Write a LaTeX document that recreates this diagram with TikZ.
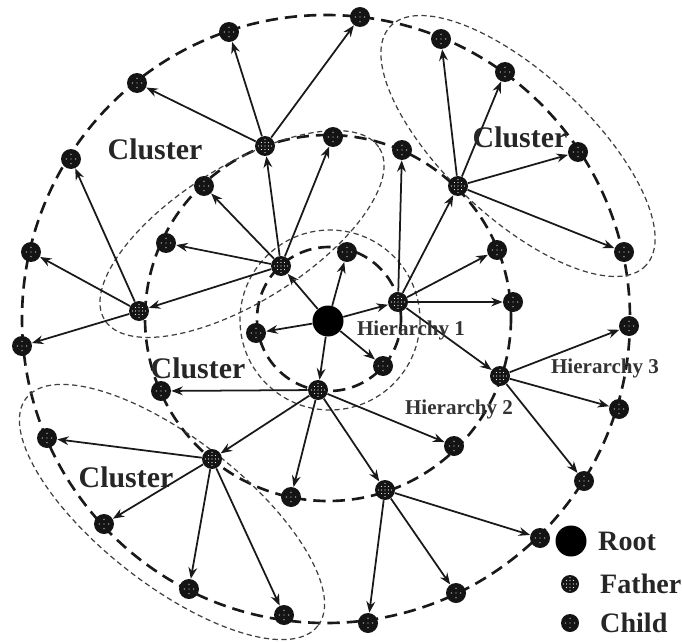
\documentclass[tikz,border=0pt]{standalone}
\usepackage{fontspec}
\setmainfont{Liberation Serif}
\usetikzlibrary{arrows.meta, backgrounds}

\begin{document}
\begin{tikzpicture}[x=0.02cm, y=-0.02cm,
    rootnode/.style={circle, fill=black, inner sep=0pt, minimum size=0.62cm},
    fathernode/.style={circle, fill=black!92, inner sep=0pt, minimum size=0.4cm,
      path picture={\foreach \dx/\dy in {-2/-2,0/-2,2/-2,-2/0,0/0,2/0,-2/2,0/2,2/2,-3.7/0,3.7/0,0/-3.7,0/3.7}
        \fill[white!90!black] ([xshift=\dx pt, yshift=\dy pt]path picture bounding box.center) circle (0.4pt);}},
    childnode/.style={circle, fill=black!92, inner sep=0pt, minimum size=0.4cm,
      path picture={\foreach \dx/\dy in {0/0,-2.6/0,2.6/0,0/-2.6,0/2.6}
        \fill[white!75!black] ([xshift=\dx pt, yshift=\dy pt]path picture bounding box.center) circle (0.4pt);}},
    link/.style={-{Stealth[length=6.5pt, width=5pt]}, line width=1pt, black!90},
    hcircle/.style={line width=1.5pt, black!90, dash pattern=on 7pt off 4pt},
    cluster/.style={line width=0.7pt, black!75, dash pattern=on 3pt off 2pt},
    clusterlabel/.style={font=\bfseries\fontsize{17}{20}\selectfont, text=black!85},
    hlabel/.style={font=\bfseries\fontsize{12}{14}\selectfont, text=black!80},
    legendlabel/.style={font=\bfseries\fontsize{16}{19}\selectfont, text=black!85, anchor=west}]
    \useasboundingbox (0,0) rectangle (682,642);

    % Root and the fathers
    \node[rootnode] (root) at (328,321) {};
    \node[fathernode] (f1) at (281,266) {};
    \node[fathernode] (f2) at (398,302) {};
    \node[fathernode] (f3) at (318,390) {};
    \node[fathernode] (f4) at (265,146) {};
    \node[fathernode] (f5) at (139,311) {};
    \node[fathernode] (f6) at (458,186) {};
    \node[fathernode] (f7) at (500,376) {};
    \node[fathernode] (f8) at (212,459) {};
    \node[fathernode] (f9) at (385,490) {};

    % Children
    \foreach \n/\x/\y in {c1a/347/252, c1b/256/333, c1c/383/366,
        c2a/166/243, c2b/204/186, c2c/333/137, c2d/402/150, c2e/497/250,
        c2f/513/302, c2g/161/391, c2h/291/497, c2i/454/446,
        c3a/229/32, c3b/137/83, c3c/360/17, c3d/71/159, c3e/31/252,
        c3f/22/346, c3g/441/39, c3h/505/72, c3i/578/152, c3j/624/252,
        c3k/629/326, c3l/619/409, c3m/584/481, c3n/47/438, c3o/104/524,
        c3p/189/589, c3q/284/615, c3r/368/623, c3s/456/593, c3t/540/538}
        \node[childnode] (\n) at (\x,\y) {};

    % Links
    \foreach \a/\b in {root/f1, root/c1a, root/f2, root/c1b, root/c1c, root/f3,
        f1/c2a, f1/c2b, f1/f4, f1/c2c, f1/f5,
        f2/c2d, f2/f6, f2/c2e, f2/c2f, f2/f7,
        f3/c2g, f3/f8, f3/c2h, f3/f9, f3/c2i,
        f4/c3a, f4/c3b, f4/c3c, f5/c3d, f5/c3e, f5/c3f,
        f6/c3g, f6/c3h, f6/c3i, f6/c3j, f7/c3k, f7/c3l, f7/c3m,
        f8/c3n, f8/c3o, f8/c3p, f8/c3q, f9/c3r, f9/c3s, f9/c3t}
        \draw[link] (\a) -- (\b);

    % Hierarchies and clusters
    \begin{scope}[on background layer]
        \draw[hcircle] (329,319) circle (72);
        \draw[hcircle] (328,318) circle (183);
        \draw[hcircle] (326,319) circle (304);
        \draw[cluster] (330,320) circle (90);
        \draw[cluster, rotate around={32:(242,234)}] (242,234) ellipse [x radius=162, y radius=68];
        \draw[cluster, rotate around={-43:(518,146)}] (518,146) ellipse [x radius=175, y radius=72];
        \draw[cluster, rotate around={-38:(172,512)}] (172,512) ellipse [x radius=185, y radius=73];
    \end{scope}

    % Labels
    \node[clusterlabel] (cl1) at (155,149) {Cluster};
    \node[clusterlabel] (cl2) at (520,137) {Cluster};
    \node[clusterlabel] (cl3) at (198,368) {Cluster};
    \node[clusterlabel] (cl4) at (126,477) {Cluster};
    \node[hlabel] (h1) at (411,330) {Hierarchy 1};
    \node[hlabel] (h2) at (459,409) {Hierarchy 2};
    \node[hlabel] (h3) at (605,368) {Hierarchy 3};

    % Legend
    \node[rootnode] (lroot) at (571,541) {};
    \node[fathernode, minimum size=0.36cm] (lfather) at (570,584) {};
    \node[childnode, minimum size=0.36cm] (lchild) at (570,623) {};
    \node[legendlabel] (troot) at (592,541) {Root};
    \node[legendlabel] (tfather) at (594,584) {Father};
    \node[legendlabel] (tchild) at (594,623) {Child};
\end{tikzpicture}
\end{document}
